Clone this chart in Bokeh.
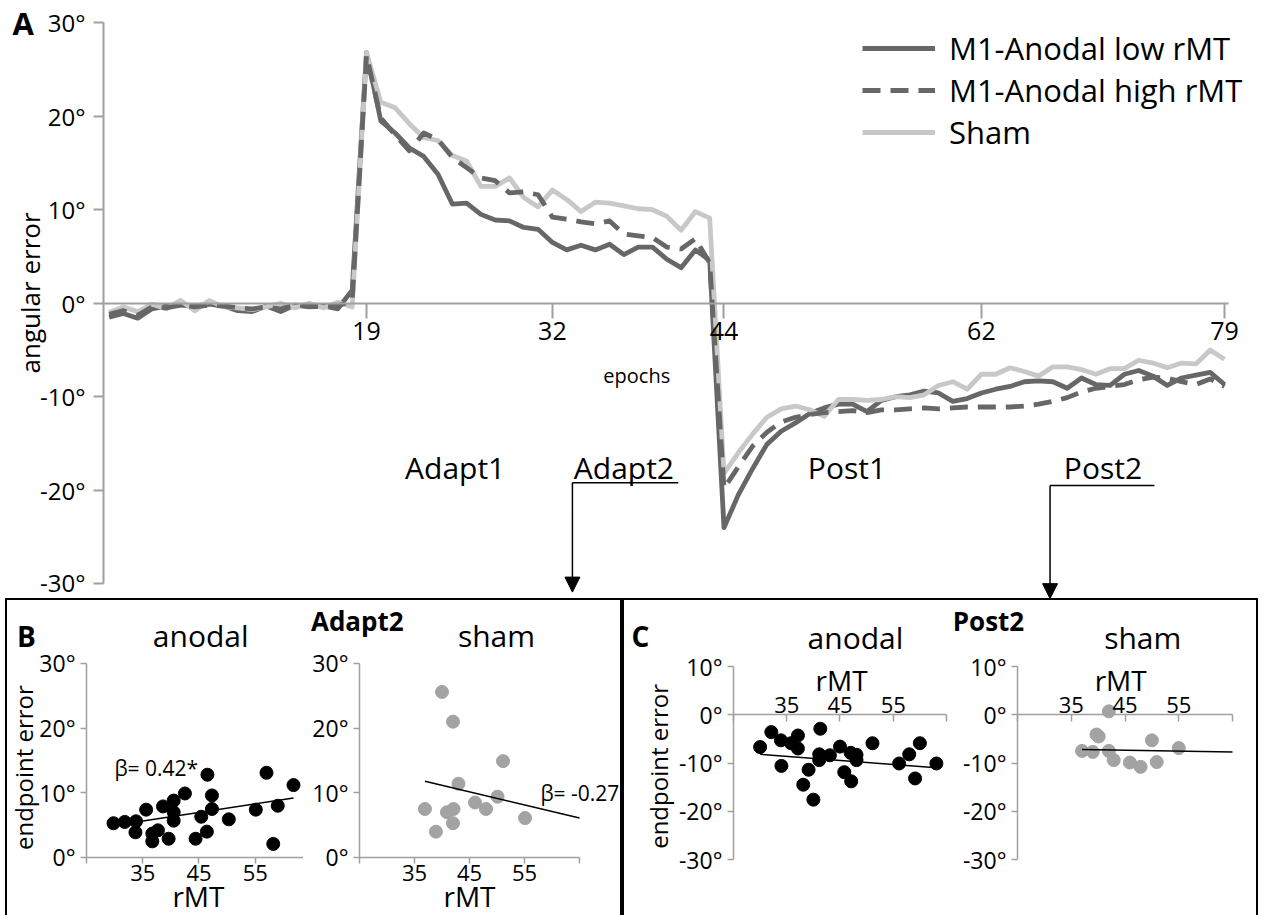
import math
from bokeh.plotting import figure
from bokeh.models import (Range1d, FixedTicker, Label, Legend, LegendItem, Arrow,
                          NormalHead, Row, Column, Spacer)
from bokeh.embed import file_html
from bokeh.resources import INLINE

FONT = "Open Sans"
DARK = "#676767"
LIGHT = "#c8c8c8"
AXIS = "#a0a0a0"
SHAM_DOT = "#a3a3a3"

# ---------------- Panel A data ----------------
epochs = list(range(1, 80))
low_rmt = [-1.5, -1.1, -1.6, -0.6, -0.3, -0.2, -0.3, -0.1, -0.3, -0.8, -0.9, -0.3, -0.9, -0.2, -0.4, -0.3, -0.6, 1.4,
           26.8, 19.5, 18.2, 16.6, 15.7, 13.8, 10.6, 10.7, 9.5, 8.9, 8.8, 8.1, 7.9, 6.5, 5.7, 6.2, 5.7, 6.3, 5.2, 6.0,
           6.0, 4.7, 3.8, 5.7, 4.6,
           -24.0, -20.5, -17.7, -15.1, -13.7, -12.8, -11.8, -11.2, -10.8, -10.8, -11.6, -10.4, -10.0, -9.8, -9.4, -9.6,
           -10.5, -10.2, -9.6, -9.2, -8.9, -8.4, -8.3, -8.4, -9.1, -8.0, -8.7, -8.8, -7.6, -7.2, -7.8, -8.8, -8.0, -7.7,
           -7.4, -8.7]
high_rmt = [-1.2, -0.8, -1.3, -0.4, -0.5, -0.2, -0.4, -0.2, -0.3, -0.5, -0.6, -0.4, -0.6, -0.2, -0.3, -0.4, -0.3, 0.3,
            26.5, 19.8, 18.0, 16.3, 18.2, 17.5, 15.6, 14.5, 13.4, 13.1, 11.8, 11.9, 11.6, 9.2, 9.0, 8.7, 8.5, 8.8, 7.4,
            7.2, 7.0, 6.0, 5.8, 6.9, 4.3,
            -19.8, -17.5, -15.3, -13.8, -12.7, -12.2, -11.9, -11.7, -11.6, -11.5, -11.7, -11.4, -11.4, -11.3, -11.2,
            -11.3, -11.2, -11.1, -11.1, -11.1, -11.1, -11.0, -10.8, -10.5, -10.1, -9.5, -9.1, -8.9, -8.7, -8.2, -7.9,
            -8.0, -8.4, -8.7, -8.1, -8.9]
sham = [-1.0, -0.4, -0.9, -0.1, -0.6, 0.3, -0.8, 0.3, -0.4, -0.5, -0.7, -0.4, 0.0, -0.5, 0.0, -0.5, 0.1, -0.4,
        26.8, 21.5, 20.9, 19.2, 17.7, 17.4, 15.8, 15.2, 12.5, 12.5, 13.4, 11.3, 10.3, 12.1, 11.1, 9.8, 10.8, 10.7, 10.4,
        10.1, 10.0, 9.3, 7.8, 9.8, 9.1,
        -18.2, -16.0, -14.0, -12.2, -11.3, -11.0, -11.4, -12.1, -10.3, -10.3, -10.4, -10.3, -10.0, -10.1, -9.8, -8.8,
        -8.4, -9.2, -7.6, -7.6, -6.9, -7.3, -7.8, -6.8, -6.8, -7.1, -7.6, -7.0, -7.0, -6.1, -6.4, -6.9, -6.4, -6.5,
        -5.0, -6.0]
series_names = ["M1-Anodal low rMT", "M1-Anodal high rMT", "Sham"]
epoch_ticks = [19, 32, 44, 62, 79]
angle_ticks = [-30, -20, -10, 0, 10, 20, 30]

phase_names = ["Adapt1", "Adapt2", "Post1", "Post2"]
phase_x = [25.2, 37.0, 52.6, 70.5]
phase_y = -17.6
bracket_adapt2_x = [33.4, 40.8]
bracket_adapt2_y = -19.2
arrow_adapt2_end = -30.9
bracket_post2_x = [66.8, 74.1]
bracket_post2_y = -19.5
arrow_post2_end = -31.6

# ---------------- Panels B / C data ----------------
rmt_ticks = [25, 35, 45, 55, 65]
b_ticks = [0, 10, 20, 30]
c_ticks = [-30, -20, -10, 0, 10]

adapt_anodal_rmt = [29.8, 31.8, 33.8, 33.7, 35.6, 36.7, 36.7, 37.7, 38.6, 39.6, 40.5, 40.5, 40.5, 42.5, 44.4, 45.4,
                    46.5, 46.4, 47.3, 47.3, 50.3, 55.1, 57.0, 58.2, 59.0, 61.8]
adapt_anodal_err = [5.3, 5.5, 5.6, 3.9, 7.4, 3.7, 2.5, 4.2, 7.9, 2.9, 8.8, 7.0, 5.7, 9.9, 2.9, 6.3, 12.8, 4.0, 9.6,
                    7.5, 5.9, 7.4, 13.1, 2.1, 8.0, 11.2]
adapt_anodal_fit_x = [29.5, 61.8]
adapt_anodal_fit_y = [4.9, 9.2]

adapt_sham_rmt = [40.0, 42.0, 51.1, 43.0, 36.9, 40.9, 42.1, 42.0, 38.9, 46.0, 48.0, 50.1, 55.1]
adapt_sham_err = [25.6, 21.0, 14.9, 11.4, 7.5, 7.0, 7.5, 5.3, 4.0, 8.5, 7.5, 9.4, 6.1]
adapt_sham_fit_x = [36.9, 65.0]
adapt_sham_fit_y = [11.8, 6.1]

post_anodal_rmt = [30.0, 32.1, 33.9, 34.0, 35.8, 37.1, 37.1, 38.1, 39.1, 40.0, 41.3, 41.1, 41.1, 43.1, 45.0, 45.8,
                   47.0, 47.1, 48.1, 48.1, 51.1, 56.1, 58.0, 59.1, 60.0, 63.1]
post_anodal_err = [-6.7, -3.6, -5.3, -10.6, -5.9, -4.3, -7.0, -14.5, -11.4, -17.6, -2.9, -8.2, -9.4, -8.4, -6.6,
                   -11.9, -7.9, -13.8, -8.3, -9.4, -5.9, -10.1, -8.2, -13.2, -5.9, -10.1]
post_anodal_fit_x = [30.0, 63.1]
post_anodal_fit_y = [-8.2, -11.0]

post_sham_rmt = [42.0, 37.0, 39.0, 39.7, 40.1, 42.0, 42.9, 45.9, 47.9, 50.0, 50.9, 55.0]
post_sham_err = [0.7, -7.5, -7.7, -4.1, -4.5, -7.5, -9.4, -9.9, -10.8, -5.3, -9.8, -6.9]
post_sham_fit_x = [37.0, 65.0]
post_sham_fit_y = [-7.2, -7.7]


def deg_labels(ticks):
    return {t: f"{t}\u00b0" for t in ticks}


def add_text(fig, x, y, text, size, bold=False, align="center", angle=0.0):
    fig.add_layout(Label(x=x, y=y, text=text, text_font=FONT, text_font_size=f"{size}px",
                         text_font_style="bold" if bold else "normal", text_color="black",
                         text_align=align, text_baseline="middle", angle=angle))


def style_axis(ax, ticks, labels, size):
    ax.ticker = FixedTicker(ticks=ticks)
    ax.major_label_overrides = labels
    ax.axis_line_color = AXIS
    ax.major_tick_line_color = AXIS
    ax.minor_tick_line_color = None
    ax.major_label_text_font = FONT
    ax.major_label_text_font_size = f"{size}px"
    ax.major_label_text_color = "black"


def base_fig(width, height, xr, yr, above=False):
    f = figure(width=width, height=height, x_range=Range1d(*xr), y_range=Range1d(*yr),
               output_backend="svg", toolbar_location=None,
               x_axis_location="above" if above else "below",
               min_border=0, min_border_left=0, min_border_right=0, min_border_top=0, min_border_bottom=0)
    f.grid.visible = False
    f.outline_line_color = None
    return f


# ---------------- Panel A ----------------
p = base_fig(1263, 598, (-6.594, 81.727), (-31.583, 32.374))

style_axis(p.yaxis[0], angle_ticks, deg_labels(angle_ticks), 24)
p.yaxis.fixed_location = 0.608
p.yaxis.bounds = (-30, 30)
p.yaxis.axis_line_width = 2
p.yaxis.major_tick_line_width = 2
p.yaxis.major_tick_out = 10
p.yaxis.major_tick_in = 0
p.yaxis.major_label_standoff = 8

style_axis(p.xaxis[0], epoch_ticks, {t: str(t) for t in epoch_ticks}, 25)
p.xaxis.fixed_location = 0
p.xaxis.bounds = (0.608, 79.3)
p.xaxis.axis_line_width = 2
p.xaxis.major_tick_line_width = 2
p.xaxis.major_tick_out = 15
p.xaxis.major_tick_in = 0
p.xaxis.major_label_standoff = 4

r_low = p.line(epochs, low_rmt, line_color=DARK, line_width=4.8, line_join="round")
r_sham = p.line(epochs, sham, line_color=LIGHT, line_width=4.8, line_join="round")
r_high = p.line(epochs, high_rmt, line_color=DARK, line_width=4.8, line_dash="18 10", line_join="round")

legend = Legend(items=[LegendItem(label=series_names[0], renderers=[r_low]),
                       LegendItem(label=series_names[1], renderers=[r_high]),
                       LegendItem(label=series_names[2], renderers=[r_sham])],
                location=(862, 445), glyph_width=73, glyph_height=30, label_height=30,
                label_standoff=14, spacing=0, padding=0, margin=0,
                label_text_font=FONT, label_text_font_size="31px", label_text_color="black",
                border_line_color=None, background_fill_alpha=0)
p.add_layout(legend)

add_text(p, -5.0, 30.0, "A", 31, bold=True)
add_text(p, -4.5, 1.1, "angular error", 26, angle=math.pi / 2)
add_text(p, 37.9, -7.7, "epochs", 20)
for name, xx in zip(phase_names, phase_x):
    add_text(p, xx, phase_y, name, 30)

p.line(bracket_adapt2_x, [bracket_adapt2_y, bracket_adapt2_y], line_color="black", line_width=1.5)
p.line(bracket_post2_x, [bracket_post2_y, bracket_post2_y], line_color="black", line_width=1.5)
p.add_layout(Arrow(x_start=bracket_adapt2_x[0], y_start=bracket_adapt2_y, x_end=bracket_adapt2_x[0],
                   y_end=arrow_adapt2_end, line_width=1.5, line_color="black",
                   end=NormalHead(size=15, fill_color="black", line_color="black")))
p.add_layout(Arrow(x_start=bracket_post2_x[0], y_start=bracket_post2_y, x_end=bracket_post2_x[0],
                   y_end=arrow_post2_end, line_width=1.5, line_color="black",
                   end=NormalHead(size=15, fill_color="black", line_color="black")))


# ---------------- sub panels ----------------
def style_sub(f, yticks, ybounds, xbound_hi, above=False):
    style_axis(f.yaxis[0], yticks, deg_labels(yticks), 23)
    f.yaxis.fixed_location = 25
    f.yaxis.bounds = ybounds
    f.yaxis.major_tick_out = 6
    f.yaxis.major_tick_in = 0
    f.yaxis.major_label_standoff = 5
    f.yaxis.axis_line_width = 1.5
    f.yaxis.major_tick_line_width = 1.5
    style_axis(f.xaxis[0], rmt_ticks, {25: "", 35: "35", 45: "45", 55: "55", 65: ""}, 22)
    f.xaxis.fixed_location = 0
    f.xaxis.bounds = (25, xbound_hi)
    f.xaxis.axis_line_width = 1.5
    f.xaxis.major_tick_line_width = 1.5
    if above:
        f.xaxis.major_tick_out = 0
        f.xaxis.major_tick_in = 7
        f.xaxis.major_label_standoff = 2
    else:
        f.xaxis.major_tick_out = 6
        f.xaxis.major_tick_in = 0
        f.xaxis.major_label_standoff = 2


B_Y = (-8.969, 39.74)
C_Y = (-41.606, 23.679)

# B left: anodal, Adapt2
b1 = base_fig(296, 315, (10.956, 63.578), B_Y)
style_sub(b1, b_ticks, (0, 30), 65)
b1.scatter(adapt_anodal_rmt, adapt_anodal_err, size=13, color="black")
b1.line(adapt_anodal_fit_x, adapt_anodal_fit_y, line_color="black", line_width=1.5)
add_text(b1, 14.3, 34.3, "B", 28, bold=True)
add_text(b1, 45.3, 34.3, "anodal", 30)
add_text(b1, 37.4, 13.9, "\u03b2= 0.42*", 21)
add_text(b1, 13.8, 13.9, "endpoint error", 24, angle=math.pi / 2)
add_text(b1, 44.9, -5.9, "rMT", 28)

# B right: sham, Adapt2
b2 = base_fig(317, 315, (14.818, 72.455), B_Y)
style_sub(b2, b_ticks, (0, 30), 65)
b2.scatter(adapt_sham_rmt, adapt_sham_err, size=13, color=SHAM_DOT)
b2.line(adapt_sham_fit_x, adapt_sham_fit_y, line_color="black", line_width=1.5)
add_text(b2, 24.6, 36.6, "Adapt2", 26, bold=True)
add_text(b2, 49.9, 34.3, "sham", 30)
add_text(b2, 57.9, 9.9, "\u03b2= -0.27", 21, align="left")
add_text(b2, 45.0, -5.9, "rMT", 28)

# C left: anodal, Post2
c1 = base_fig(326, 315, (4.531, 65.751), C_Y, above=True)
style_sub(c1, c_ticks, (-30, 10), 65, above=True)
c1.scatter(post_anodal_rmt, post_anodal_err, size=13, color="black")
c1.line(post_anodal_fit_x, post_anodal_fit_y, line_color="black", line_width=1.5)
add_text(c1, 7.5, 16.4, "C", 28, bold=True)
add_text(c1, 47.9, 16.0, "anodal", 30)
add_text(c1, 45.3, 7.1, "rMT", 28)
add_text(c1, 10.9, -10.7, "endpoint error", 24, angle=math.pi / 2)

# C right: sham, Post2
c2 = base_fig(306, 315, (12.535, 69.465), C_Y, above=True)
style_sub(c2, c_ticks, (-30, 10), 65, above=True)
c2.scatter(post_sham_rmt, post_sham_err, size=13, color=SHAM_DOT)
c2.line(post_sham_fit_x, post_sham_fit_y, line_color="black", line_width=1.5)
add_text(c2, 19.6, 19.5, "Post2", 26, bold=True)
add_text(c2, 48.3, 16.0, "sham", 30)
add_text(c2, 44.2, 7.1, "rMT", 28)

box_style = {"border-top": "2px solid black", "border-left": "2px solid black",
             "border-right": "2px solid black"}
boxB = Row(children=[b1, b2], styles=box_style)
boxC = Row(children=[c1, c2], styles=box_style)
layout = Column(children=[p, Row(children=[Spacer(width=5, height=317), boxB, boxC])])

open("out.html", "w").write(file_html(layout, INLINE))
